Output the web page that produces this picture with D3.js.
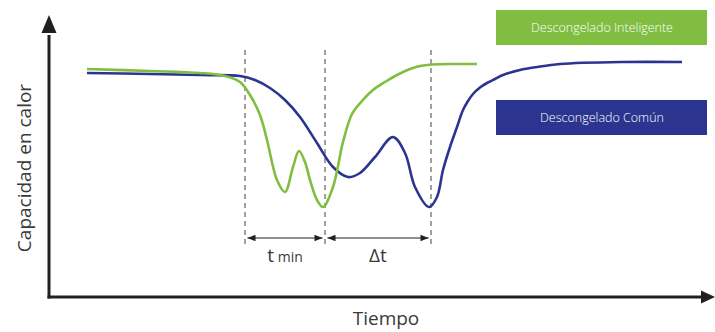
<!DOCTYPE html>
<html><head><meta charset="utf-8">
<script src="https://cdn.jsdelivr.net/npm/d3@7"></script>
<style>html,body{margin:0;padding:0;background:#fff;}svg{display:block;}</style>
</head><body>
<svg id="c" width="715" height="332"></svg>
<script>
// time units and heat-capacity units (arbitrary)
const greenTime = [38,101,151,176,191,201,211,218,228,236,244,250,256,261,268,274,284,294,303,313,324,336,348,361,371,383,406,428];
const greenCap  = [228,226,224,221,215,202,182,157,117,105,130,146,135,117,97,90,110,155,183,196,207,215,222,228,231,232.5,233,233];
const blueTime  = [38,101,151,191,206,221,236,251,268,284,299,311,326,344,356,366,380,388,394,401,408,414,419,424,431,438,446,454,471,488,511,573,633];
const blueCap   = [224,223,222,221,217,209,197,180,154,130,120,124,140,160,144,110,90,100,127,150,170,187,196,203,209.5,214,218,222,227,230,233,235,235];
const markerTimes = [196, 276, 382];
const intervalLabels = [{main:"t", sub:" min"}, {main:"\u0394t", sub:""}];
const seriesNames = ["Descongelado Inteligente", "Descongelado Común"];
const seriesColors = ["#80bd41", "#2b3590"];
const xLabel = "Tiempo", yLabel = "Capacidad en calor";

const svg = d3.select("#c");
const x = d3.scaleLinear().domain([0, 666]).range([49, 715]);
const y = d3.scaleLinear().domain([0, 282]).range([297, 15]);
const axisColor = "#231f20";
const font = "'Open Sans', sans-serif";

// axes
svg.append("line").attr("x1", x(0)).attr("x2", x(0)).attr("y1", y(0)+1.5).attr("y2", y(262))
  .attr("stroke", axisColor).attr("stroke-width", 3);
svg.append("path").attr("d", `M${x(0)-7.5},${y(264)} L${x(0)},${y(282)} L${x(0)+7.5},${y(264)} Z`).attr("fill", axisColor);
svg.append("line").attr("x1", x(0)-1.5).attr("x2", x(654)).attr("y1", y(0)).attr("y2", y(0))
  .attr("stroke", axisColor).attr("stroke-width", 3);
svg.append("path").attr("d", `M${x(652)},${y(0)-6.5} L${x(666)},${y(0)} L${x(652)},${y(0)+6.5} Z`).attr("fill", axisColor);

svg.append("text").attr("x", 386).attr("y", 325).attr("text-anchor", "middle")
  .attr("font-family", font).attr("font-size", 19).attr("fill", "#3a3a3a").text(xLabel);
svg.append("text").attr("transform", "translate(31,168) rotate(-90)").attr("text-anchor", "middle")
  .attr("font-family", font).attr("font-size", 19).attr("fill", "#3a3a3a").text(yLabel);

// dashed markers
svg.selectAll("line.mk").data(markerTimes).enter().append("line").attr("class", "mk")
  .attr("x1", d => x(d)).attr("x2", d => x(d)).attr("y1", y(247)).attr("y2", y(49))
  .attr("stroke", "#555").attr("stroke-width", 1.1).attr("stroke-dasharray", "5,4");

// interval arrows
const defs = svg.append("defs");
defs.append("marker").attr("id", "ah").attr("viewBox", "0 0 10 10").attr("refX", 10).attr("refY", 5)
  .attr("markerWidth", 10).attr("markerHeight", 8).attr("markerUnits", "userSpaceOnUse").attr("orient", "auto-start-reverse")
  .append("path").attr("d", "M0,1 L10,5 L0,9 Z").attr("fill", axisColor);
const ay = y(59);
intervalLabels.forEach((lab, i) => {
  const a = x(markerTimes[i]) + 2.5, b = x(markerTimes[i+1]) - 2.5;
  svg.append("line").attr("x1", a).attr("x2", b).attr("y1", ay).attr("y2", ay)
    .attr("stroke", axisColor).attr("stroke-width", 1.2)
    .attr("marker-start", "url(#ah)").attr("marker-end", "url(#ah)");
  const t = svg.append("text").attr("x", (a+b)/2).attr("y", 262).attr("text-anchor", "middle")
    .attr("font-family", font).attr("fill", "#3a3a3a");
  t.append("tspan").attr("font-size", 19).text(lab.main);
  if (lab.sub) t.append("tspan").attr("font-size", 14).text(lab.sub);
});

// curves
const line = d3.line().x(d => x(d[0])).y(d => y(d[1])).curve(d3.curveCatmullRom.alpha(0.5));
const green = greenTime.map((t, i) => [t, greenCap[i]]);
const blue = blueTime.map((t, i) => [t, blueCap[i]]);
svg.append("path").attr("d", line(blue)).attr("fill", "none").attr("stroke", seriesColors[1]).attr("stroke-width", 2.6);
svg.append("path").attr("d", line(green)).attr("fill", "none").attr("stroke", seriesColors[0]).attr("stroke-width", 2.6);

// legend boxes
const lg = [{y: 10}, {y: 100}];
seriesNames.forEach((n, i) => {
  svg.append("rect").attr("x", 496).attr("y", lg[i].y).attr("width", 211).attr("height", 35).attr("fill", seriesColors[i]);
  svg.append("text").attr("x", 602).attr("y", lg[i].y + 22).attr("text-anchor", "middle")
    .attr("font-family", font).attr("font-weight", 300).attr("font-size", 12.5).attr("fill", "#fff").text(n);
});
</script>
</body></html>
